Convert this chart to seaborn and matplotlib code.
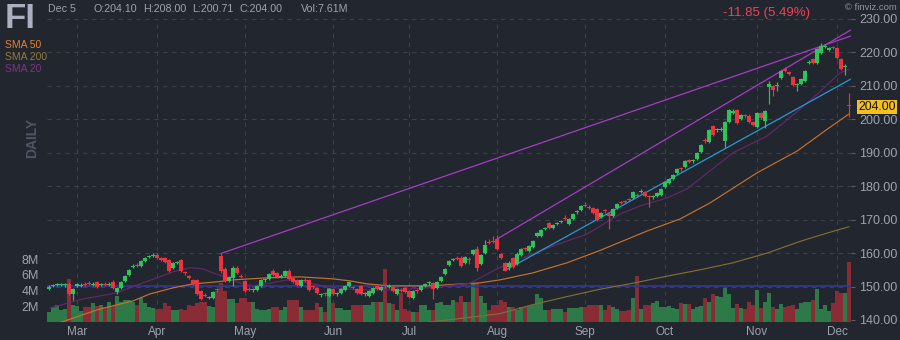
import numpy as np
import pandas as pd
import matplotlib
matplotlib.use("Agg")
import matplotlib.pyplot as plt
import seaborn as sns

# ---------------- data ----------------
ticker = "FI"
last_date = "Dec 5"
first_idx = -7   # trading-day index of first bar (Mar 1 = 0)

open_ = [149.3,150.2,150.6,150.5,150.4,150.8,147.8,
         150.3,150.2,150.9,151.0,150.6,151.4,150.5,150.9,150.6,151.5,
         148.4,149.6,151.7,153.5,155.9,156.4,156.2,157.5,158.8,159.2,
         159.4,158.5,158.5,157.9,155.6,157.0,157.9,154.1,153.2,152.0,
         152.0,148.7,147.5,146.6,146.6,149.3,159.1,155.3,151.7,152.6,
         155.6,153.2,151.7,149.3,148.9,149.0,150.2,151.9,152.3,154.7,
         154.1,153.0,153.2,154.7,152.6,152.0,150.3,152.0,152.0,150.0,
         149.6,147.4,147.9,147.2,149.3,147.7,148.1,149.0,150.2,149.8,
         149.3,150.2,147.7,147.2,148.1,150.2,149.0,150.3,150.0,149.9,
         147.8,149.0,149.6,148.7,146.6,148.8,149.0,150.2,151.0,151.1,
         149.6,151.7,153.8,156.5,157.9,158.5,158.6,157.1,158.2,159.7,
         161.2,156.8,160.0,163.2,163.5,164.2,159.7,157.0,155.9,158.5,
         156.8,159.4,161.3,160.6,161.8,165.0,165.1,167.3,169.0,167.6,
         168.8,169.3,170.4,168.8,170.2,172.2,172.9,174.3,173.8,173.5,
         173.2,170.9,172.7,171.7,171.1,173.5,175.2,175.5,176.1,176.5,
         177.4,178.4,178.3,177.0,176.8,177.1,177.4,179.8,181.0,182.2,
         184.0,185.3,185.8,187.8,187.4,188.1,190.3,193.6,193.2,198.0,
         196.8,196.9,193.5,199.2,201.9,202.8,200.1,201.1,201.1,199.2,
         197.7,201.9,199.5,209.7,210.0,209.9,212.4,215.0,214.2,212.7,
         210.4,210.6,211.5,216.9,218.0,216.8,219.8,221.7,220.6,221.5,
         221.3,218.0,215.6,204.10]

high_ = [150.4,150.8,151.1,151.0,151.2,151.4,149.7,
         151.2,151.0,151.3,151.6,151.3,151.8,151.2,151.3,151.3,151.9,
         149.9,151.7,153.5,155.3,156.6,157.0,158.0,158.9,159.5,160.0,
         159.9,158.9,158.8,158.2,157.3,157.7,158.3,154.6,153.6,152.4,
         152.3,149.0,148.0,147.3,148.8,149.7,159.9,155.8,153.3,156.0,
         156.0,153.7,152.1,149.8,149.5,150.5,152.4,152.5,154.2,155.2,
         154.5,153.7,155.0,155.1,153.0,152.4,152.4,152.5,152.3,150.4,
         150.0,148.1,148.3,149.6,149.6,148.3,149.6,150.5,151.8,150.2,
         149.7,150.6,148.3,149.0,149.9,150.6,150.3,150.8,150.7,150.3,
         149.6,149.5,150.0,149.0,149.0,149.3,150.5,151.2,151.7,151.4,
         151.8,153.2,155.6,158.0,158.5,159.0,159.0,159.2,158.8,161.3,
         162.0,159.8,164.0,164.2,165.0,165.5,160.1,157.4,157.5,158.9,
         160.2,161.5,161.8,162.4,163.9,166.3,167.2,167.9,169.4,168.7,
         169.4,169.9,171.3,170.5,172.0,172.8,174.4,175.4,174.3,173.9,
         173.6,172.3,173.2,172.3,173.5,175.0,175.7,176.0,176.6,178.6,
         178.0,179.3,178.7,177.5,177.5,178.3,179.5,181.6,182.5,183.7,
         185.5,185.8,187.8,188.2,188.0,190.2,192.5,194.3,197.1,198.4,
         197.5,197.6,199.5,203.1,203.0,203.2,201.6,201.6,201.5,199.6,
         202.2,202.3,202.8,211.5,210.4,211.2,214.8,215.5,214.6,213.1,
         211.0,212.4,214.8,217.6,218.4,221.3,222.8,222.6,221.6,222.0,
         221.7,218.4,216.4,208.00]

low_ = [148.9,149.8,150.1,150.1,150.0,147.4,146.0,
        149.9,149.8,150.2,150.4,150.2,149.6,150.1,150.2,150.2,149.4,
        147.9,149.3,151.3,153.2,155.5,155.7,155.9,157.2,158.4,158.8,
        158.2,157.6,157.0,154.4,155.3,156.6,154.4,153.6,152.3,150.5,
        147.5,145.9,146.8,146.2,146.3,148.5,154.0,151.3,151.3,150.2,
        153.8,152.5,148.4,148.6,148.3,148.7,149.9,151.5,152.0,153.1,
        152.6,152.6,152.9,152.0,151.1,150.2,150.0,151.4,148.7,149.4,
        147.8,146.9,147.2,146.9,147.5,147.3,147.8,148.7,149.9,149.3,
        147.8,147.5,147.2,146.9,147.8,149.0,148.7,149.7,149.6,148.4,
        147.5,148.4,148.1,146.6,146.2,148.2,148.7,149.9,150.6,146.3,
        149.3,151.4,153.5,156.2,157.5,157.9,155.9,156.8,156.8,159.3,
        154.7,156.4,159.7,162.6,162.9,160.9,158.2,154.6,155.0,155.6,
        156.5,159.1,160.7,160.3,161.5,164.7,164.8,166.9,167.2,167.3,
        168.4,168.9,169.9,168.5,169.9,171.8,172.6,173.8,173.1,171.7,
        169.7,170.5,172.1,167.2,170.8,173.2,174.6,174.9,175.5,176.2,
        176.8,177.9,176.8,173.9,176.3,176.8,177.1,179.5,180.7,181.9,
        183.7,184.7,185.5,186.9,187.0,187.8,190.0,193.0,192.9,195.0,
        196.3,196.4,191.4,198.9,201.5,198.6,199.8,200.5,198.9,198.0,
        197.4,200.1,197.4,204.6,207.0,208.5,212.1,214.2,213.3,210.0,
        208.5,210.3,211.2,216.4,216.5,216.5,219.5,221.2,220.3,220.9,
        218.0,214.7,213.4,200.71]

close_ = [150.0,150.4,150.8,150.7,150.7,147.8,149.3,
          150.8,150.5,150.6,150.8,150.9,149.9,150.8,150.6,150.9,149.6,
          149.6,151.4,153.2,155.0,156.2,156.0,157.7,158.6,159.1,159.4,
          158.5,157.9,157.3,154.7,157.0,157.3,154.7,154.0,152.6,150.8,
          147.8,146.3,147.2,146.9,148.4,148.9,154.7,151.7,152.9,155.6,
          154.1,152.9,148.7,149.0,149.1,150.2,152.0,152.1,153.8,153.5,
          152.9,153.3,154.7,152.3,151.4,150.5,152.0,151.8,149.0,149.9,
          148.1,147.6,147.7,149.3,147.8,147.9,149.3,150.2,151.4,149.6,
          148.1,147.8,147.9,148.7,149.6,149.3,149.9,150.1,150.3,148.7,
          149.3,148.8,148.4,146.9,148.7,148.6,150.2,150.8,151.3,149.3,
          151.4,152.9,155.3,157.7,158.1,158.3,156.2,158.9,158.0,160.9,
          155.6,159.4,162.4,163.0,163.2,161.2,158.5,154.7,157.1,155.9,
          159.8,161.2,161.1,162.1,163.6,166.0,166.9,167.5,167.5,168.4,
          169.0,169.6,170.2,170.2,171.7,172.4,174.1,174.0,173.5,172.0,
          170.0,172.0,172.5,171.1,173.2,174.7,175.0,175.3,175.9,178.3,
          177.2,178.6,177.1,176.8,177.0,178.0,179.2,181.3,182.2,183.4,
          185.2,185.1,187.5,187.2,187.6,189.9,192.2,193.4,196.8,195.3,
          197.0,197.1,199.2,202.8,202.5,198.9,201.3,200.9,199.2,198.3,
          201.9,200.4,202.5,210.6,208.8,210.1,214.5,214.5,213.6,210.3,
          210.6,212.1,214.5,217.1,216.8,221.0,221.9,221.9,221.2,221.3,
          218.3,215.0,215.85,204.00]

volume_m = [1.3,1.9,2.2,1.5,1.6,5.5,2.2,
            2.0,1.4,1.9,1.9,2.4,2.0,2.2,1.8,2.6,2.0,
            3.3,2.6,2.8,2.8,2.6,2.2,3.0,2.4,1.9,1.8,
            1.7,1.7,2.4,2.0,1.5,1.5,1.7,1.5,2.2,2.0,
            2.4,2.6,2.6,2.0,1.9,3.9,5.0,3.9,2.9,2.9,
            2.4,3.0,3.0,2.6,2.6,1.7,1.5,1.5,1.6,1.9,
            1.9,1.5,1.9,2.8,2.8,2.8,1.9,1.5,1.5,1.5,
            2.4,1.9,1.3,4.3,2.4,1.8,1.8,1.5,1.5,2.2,
            2.2,2.2,2.2,2.2,2.6,2.6,2.6,6.7,2.4,2.3,
            1.5,3.7,1.6,1.4,1.3,1.3,2.2,2.2,1.5,1.5,
            2.4,2.6,2.2,2.2,2.8,2.6,3.3,2.6,2.6,5.0,
            5.0,3.3,2.4,1.5,2.2,2.2,2.8,2.6,1.9,1.9,
            1.5,1.9,1.9,2.0,2.2,3.6,3.0,1.5,1.5,1.7,
            1.7,1.7,1.3,1.8,1.8,1.8,1.9,1.9,2.2,2.2,
            2.2,2.2,1.5,2.2,1.9,1.7,1.4,1.4,1.5,3.0,
            5.8,1.7,2.1,2.1,2.4,2.7,1.9,1.9,2.0,1.8,
            1.7,2.4,2.3,2.3,1.7,1.9,2.0,3.0,2.5,3.6,
            3.3,3.2,4.3,3.5,1.8,2.3,1.8,1.7,2.5,2.2,
            4.1,1.8,2.5,3.7,1.9,1.6,2.3,1.9,2.0,2.1,
            1.6,2.4,2.6,2.6,2.8,4.2,1.7,2.1,1.4,2.4,
            3.9,3.7,3.7,7.61]
avg_volume_m = 4.57

# moving averages (bar index, price)
sma20_idx = [-6.75,1.5,10,15.75,20,24,28.25,31.5,34,37.5,40.75,44,47.5,52.5,56.5,61.5,66.5,
             72.5,78.25,83.25,87.75,98.25,105,110.75,119,127.5,135.75,140.75,147.5,152.5,
             158.25,164,172.5,180.75,185,190.75,193]
sma20_val = [143.6,146.3,148.1,150.8,152.6,154.4,155.6,155.3,154.1,152.6,151.1,150.2,150.8,152.0,
             151.4,150.2,149.3,149.0,149.0,149.3,149.6,151.0,155.3,158.3,162.1,165.7,171.7,174.1,
             176.5,179.2,184.6,190.0,195.0,203.0,207.5,213.9,214.9]
sma50_idx = [-7.5,5.75,14,18.25,24,29,35,39,47.5,55.75,64,68.25,72.5,78.25,87.75,100.75,105.75,
             114,122.5,130.75,142.5,150.75,158.25,170,180,187.5,193]
sma50_val = [137.9,143.3,145.7,147.8,149.6,150.8,151.4,152.0,152.6,152.9,152.3,151.7,150.8,150.2,
             150.2,151.1,152.0,154.1,157.1,160.8,166.6,170.2,175.0,184.0,190.5,197.0,201.6]
sma200_idx = [80,88.25,98.25,105.75,114,122.5,130.75,139,147.5,155.75,164,172.5,180.75,187,193]
sma200_val = [138.0,139.4,140.8,141.9,144.6,147.0,149.2,151.0,153.1,155.0,157.1,160.0,163.5,165.8,167.9]

# trendlines drawn on the chart: (start idx, start price, end idx, end price)
trend_a = [36, 159.9, 193.4, 224.9]
trend_b = [105, 164.2, 193.4, 226.7]
trend_blue = [107, 154.8, 193.4, 212.0]

price_ticks = [140, 150, 160, 170, 180, 190, 200, 210, 220, 230]
volume_ticks = [2, 4, 6, 8]
month_labels = ["Mar", "Apr", "May", "Jun", "Jul", "Aug", "Sep", "Oct", "Nov", "Dec"]
month_start_idx = [0, 20, 42, 64, 83, 105, 127, 147, 170, 190]

# ---------------- style ----------------
sns.set_theme(style="dark")
plt.rcParams['font.family'] = ['Liberation Sans', 'DejaVu Sans']

BG = "#22262f"
GRID = "#3b404c"
TXT = "#9ea3ae"
UP, DOWN = "#2cc55a", "#f0323f"
VUP, VDOWN = "#2d7a48", "#8a2c36"

n = len(close_)
df = pd.DataFrame({"idx": np.arange(first_idx, first_idx + n),
                   "o": open_, "h": high_, "l": low_, "c": close_, "v": volume_m})
is_up = df["c"] >= df["o"]

W, H = 900, 340
fig = plt.figure(figsize=(W / 100, H / 100), dpi=100)
fig.patch.set_facecolor(BG)
L, R, T, B = 47, 851, 19, 322
ax_v = fig.add_axes([L / W, 1 - B / H, (R - L) / W, (B - T) / H])
ax_v.set_facecolor(BG)
ax_p = ax_v.twinx()
ax_p.patch.set_visible(False)

for a in (ax_v, ax_p):
    a.grid(False)
    for s in a.spines.values():
        s.set_visible(False)
    a.set_xlim(first_idx - 0.5, first_idx + n - 0.5)

ax_p.set_ylim(139.4, 230.0)
ax_v.set_ylim(0, (B - T) / 7.875)

# grid
dash = (0, (4, 4))
for m in month_start_idx:
    ax_v.axvline(m, color=GRID, lw=0.8, ls=dash, zorder=0)
for p in price_ticks[1:]:
    ax_p.axhline(p, color=GRID, lw=0.8, ls=dash, zorder=0)

# volume
ax_v.bar(df["idx"], df["v"], width=1.0, color=np.where(is_up, VUP, VDOWN), linewidth=0, zorder=1)
ax_v.axhline(avg_volume_m, color="#34389c", lw=1.2, zorder=2)

# moving averages
sns.lineplot(x=sma200_idx, y=sma200_val, ax=ax_p, color="#7f6e36", lw=0.85, sort=False,
             estimator=None, legend=False, zorder=2)
sns.lineplot(x=sma50_idx, y=sma50_val, ax=ax_p, color="#c8712c", lw=0.85, sort=False,
             estimator=None, legend=False, zorder=2)
sns.lineplot(x=sma20_idx, y=sma20_val, ax=ax_p, color="#62296a", lw=0.85, sort=False,
             estimator=None, legend=False, zorder=2)

# trendlines
for tl, col in ((trend_a, "#a63dc4"), (trend_b, "#a63dc4"), (trend_blue, "#2a98d6")):
    sns.lineplot(x=[tl[0], tl[2]], y=[tl[1], tl[3]], ax=ax_p, color=col, lw=0.9,
                 sort=False, estimator=None, legend=False, zorder=3)

# candles
ccol = np.where(is_up, UP, DOWN)
ax_p.vlines(df["idx"], df["l"], df["h"], colors=ccol, lw=0.85, zorder=4)
body = np.maximum((df["c"] - df["o"]).abs(), 0.3)
ax_p.bar(df["idx"], body, bottom=np.minimum(df["o"], df["c"]), width=0.76,
         color=ccol, linewidth=0, zorder=5)

# axes ticks
ax_p.set_yticks(price_ticks)
ax_p.set_yticklabels([f"{p:.2f}" for p in price_ticks])
ax_p.tick_params(axis="y", right=True, left=False, length=3, width=0.8, color="#5a5f6b",
                 labelcolor=TXT, labelsize=9, pad=3)
ax_v.set_yticks(volume_ticks)
ax_v.set_yticklabels([f"{v}M" for v in volume_ticks])
ax_v.tick_params(axis="y", left=False, length=0, labelcolor=TXT, labelsize=9, pad=6)
ax_v.set_xticks(month_start_idx)
ax_v.set_xticklabels(month_labels)
ax_v.tick_params(axis="x", length=0, labelcolor=TXT, labelsize=8.5, pad=3)
ax_p.set_ylabel("")
ax_v.set_ylabel("")
ax_v.set_xlabel("")


def fx(x):
    return x / W


def fy(y):
    return 1 - y / H


# header
fig.text(fx(5), fy(28), ticker, fontsize=25, fontweight="bold", color="#aab0bf",
         ha="left", va="baseline")
o, h, l, c, v = open_[-1], high_[-1], low_[-1], close_[-1], volume_m[-1]
hdr = [(48, last_date), (93, f"O:{o:.2f}"), (143, f"H:{h:.2f}"), (192, f"L:{l:.2f}"),
       (240, f"C:{c:.2f}"), (301, f"Vol:{v:.2f}M")]
for x, s in hdr:
    fig.text(fx(x), fy(11.7), s, fontsize=7.7, color=TXT, ha="left", va="baseline")
chg = close_[-1] - close_[-2]
pct = chg / close_[-2] * 100
fig.text(fx(810), fy(16), f"{chg:.2f} ({abs(pct):.2f}%)", fontsize=9.5, color="#ec4452",
         ha="right", va="baseline")
fig.text(fx(897), fy(10), "\u00a9 finviz.com", fontsize=6.8, color="#8f95a3",
         ha="right", va="baseline")

# SMA legend
for y, s, col in ((48, "SMA 50", "#e0832f"), (60, "SMA 200", "#8f7d3c"), (72, "SMA 20", "#7d3584")):
    fig.text(fx(5), fy(y), s, fontsize=7.5, color=col, ha="left", va="baseline")

fig.text(fx(32), fy(138), "DAILY", fontsize=10, fontweight="bold", color="#4f5564",
         rotation=90, ha="center", va="center")

# last price box
fig.text(fx(858), fy(107), f"{c:.2f}", fontsize=8.8, color="#111111", ha="left", va="center",
         bbox=dict(boxstyle="square,pad=0.12", fc="#f4c01e", ec="none"))

fig.savefig("out.png", dpi=100, facecolor=BG)
